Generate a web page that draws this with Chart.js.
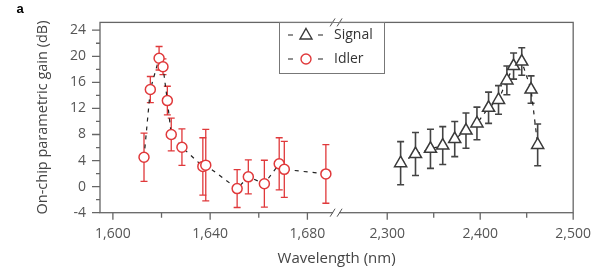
<!DOCTYPE html>
<html>
<head>
<meta charset="utf-8">
<script src="https://cdn.jsdelivr.net/npm/chart.js@4"></script>
<style>
  html, body { margin: 0; padding: 0; background: #fff; }
  #wrap { width: 604px; height: 274px; position: relative; }
</style>
</head>
<body>
<div id="wrap"><canvas id="grafico"></canvas></div>
<script>
// idler branch (left part of the broken axis)
const idlerWl   = [1612.8, 1615.4, 1619.0, 1620.6, 1622.4, 1624.0, 1628.4, 1637.0, 1638.2, 1651.1, 1655.7, 1662.3, 1668.4, 1670.5, 1687.6];
const idlerGain = [4.5, 14.9, 19.7, 18.4, 13.2, 8.0, 6.05, 3.1, 3.3, -0.3, 1.5, 0.45, 3.5, 2.65, 1.95];
const idlerErr  = [3.7, 2.0, 1.8, 1.2, 2.2, 2.5, 2.8, 4.4, 5.5, 2.9, 2.6, 3.6, 4.0, 4.3, 4.5];

// signal branch (right part)
const signalWl   = [2314.4, 2330.4, 2346.5, 2359.7, 2372.6, 2384.7, 2396.5, 2409.0, 2419.7, 2428.7, 2435.9, 2444.7, 2454.7, 2461.8];
const signalGain = [3.6, 5.0, 5.8, 6.3, 7.3, 8.6, 9.7, 12.1, 13.3, 16.3, 18.5, 19.2, 14.9, 6.4];
const signalErr  = [3.3, 3.3, 3.0, 2.9, 2.7, 2.7, 2.5, 2.4, 2.2, 2.2, 2.0, 2.1, 2.1, 3.2];

const yTicks      = [-4, 0, 4, 8, 12, 16, 20, 24];
const yMinor      = [-2, 2, 6, 10, 14, 18, 22];
const xTicksLeft  = [1600, 1640, 1680];
const xMinorLeft  = [1620, 1660];
const xTicksRight = [2300, 2400, 2500];
const xMinorRight = [2350, 2450];

const RED = '#e0393b';
const DARK = '#3a3a3a';
const AXIS = '#666';
const FONT = "'Open Sans', sans-serif";

Chart.defaults.font.family = FONT;

function pts(xs, ys) {
    return xs.map((v, i) => ({ x: v, y: ys[i] }));
}

const extras = {
    id: 'extras',
    beforeDatasetsDraw(chart) {
        const ctx = chart.ctx;
        const y = chart.scales.y;
        chart.data.datasets.forEach((ds, i) => {
            const meta = chart.getDatasetMeta(i);
            const xs = chart.scales[meta.xAxisID];
            ctx.save();
            ctx.strokeStyle = ds.errColor;
            ctx.lineWidth = ds.errWidth;
            ds.data.forEach((p, j) => {
                const px = xs.getPixelForValue(p.x);
                const t = y.getPixelForValue(p.y + ds.errors[j]);
                const b = y.getPixelForValue(p.y - ds.errors[j]);
                ctx.beginPath();
                ctx.moveTo(px, t); ctx.lineTo(px, b);
                ctx.moveTo(px - 3.5, t); ctx.lineTo(px + 3.5, t);
                ctx.moveTo(px - 3.5, b); ctx.lineTo(px + 3.5, b);
                ctx.stroke();
            });
            ctx.restore();
        });
    },
    afterDraw(chart) {
        const ctx = chart.ctx;
        const ca = chart.chartArea;
        const y = chart.scales.y, xL = chart.scales.xL, xR = chart.scales.xR;
        ctx.save();

        // frame
        ctx.strokeStyle = AXIS;
        ctx.lineWidth = 1.3;
        ctx.strokeRect(ca.left, ca.top, ca.right - ca.left, ca.bottom - ca.top);

        // tick marks
        ctx.beginPath();
        yTicks.forEach(v => { const p = y.getPixelForValue(v); ctx.moveTo(ca.left - 8, p); ctx.lineTo(ca.left, p); });
        yMinor.forEach(v => { const p = y.getPixelForValue(v); ctx.moveTo(ca.left - 4, p); ctx.lineTo(ca.left, p); });
        xTicksLeft.forEach(v => { const p = xL.getPixelForValue(v); ctx.moveTo(p, ca.bottom); ctx.lineTo(p, ca.bottom + 7); });
        xMinorLeft.forEach(v => { const p = xL.getPixelForValue(v); ctx.moveTo(p, ca.bottom); ctx.lineTo(p, ca.bottom + 5); });
        xTicksRight.forEach(v => { const p = xR.getPixelForValue(v); ctx.moveTo(p, ca.bottom); ctx.lineTo(p, ca.bottom + 7); });
        xMinorRight.forEach(v => { const p = xR.getPixelForValue(v); ctx.moveTo(p, ca.bottom); ctx.lineTo(p, ca.bottom + 5); });
        ctx.stroke();

        // axis break marks
        const bx = xL.right;
        [ca.top, ca.bottom].forEach(by => {
            ctx.fillStyle = '#fff';
            ctx.fillRect(bx - 3, by - 2, 6, 4);
            ctx.beginPath();
            ctx.moveTo(bx - 6, by + 4); ctx.lineTo(bx - 1, by - 4);
            ctx.moveTo(bx + 1, by + 4); ctx.lineTo(bx + 6, by - 4);
            ctx.lineWidth = 1;
            ctx.strokeStyle = '#555';
            ctx.stroke();
        });

        // axis titles
        ctx.fillStyle = '#444';
        ctx.textAlign = 'center';
        ctx.textBaseline = 'middle';
        ctx.font = '15px ' + FONT;
        ctx.fillText('Wavelength (nm)', (ca.left + ca.right) / 2, 259);
        ctx.save();
        ctx.translate(43, (ca.top + ca.bottom) / 2);
        ctx.rotate(-Math.PI / 2);
        ctx.font = '14.5px ' + FONT;
        ctx.fillText('On-chip parametric gain (dB)', 0, 0);
        ctx.restore();

        // panel letter
        ctx.fillStyle = '#000';
        ctx.font = 'bold 13px "Liberation Sans", Arial, sans-serif';
        ctx.fillText('a', 20, 9);

        // legend
        ctx.strokeStyle = '#777';
        ctx.lineWidth = 1;
        ctx.strokeRect(279.5, 22.5, 105, 51);
        const rows = [
            { label: 'Signal', color: DARK, y: 35, tri: true },
            { label: 'Idler', color: RED, y: 59, tri: false }
        ];
        rows.forEach(r => {
            ctx.strokeStyle = '#222';
            ctx.lineWidth = 1.2;
            ctx.beginPath();
            ctx.moveTo(288, r.y); ctx.lineTo(293, r.y);
            ctx.moveTo(318, r.y); ctx.lineTo(323, r.y);
            ctx.stroke();
            ctx.strokeStyle = r.color;
            ctx.lineWidth = 1.4;
            ctx.beginPath();
            if (r.tri) {
                ctx.moveTo(306, r.y - 6.5);
                ctx.lineTo(312, r.y + 4);
                ctx.lineTo(300, r.y + 4);
                ctx.closePath();
            } else {
                ctx.arc(306, r.y, 5, 0, Math.PI * 2);
            }
            ctx.stroke();
            ctx.fillStyle = '#333';
            ctx.textAlign = 'left';
            ctx.font = '14px ' + FONT;
            ctx.fillText(r.label, 334, r.y);
        });
        ctx.restore();
    }
};

const tickFont = { family: FONT, size: 14 };

const config = {
    type: 'scatter',
    data: {
        datasets: [
            {
                label: 'Signal',
                data: pts(signalWl, signalGain),
                errors: signalErr,
                errColor: '#444',
                errWidth: 1.6,
                xAxisID: 'xR',
                yAxisID: 'y',
                showLine: true,
                borderColor: '#222',
                borderWidth: 1.2,
                borderDash: [4, 5],
                pointStyle: 'triangle',
                pointRadius: 7,
                pointBorderWidth: 1.5,
                pointBorderColor: DARK,
                pointBackgroundColor: '#fff'
            },
            {
                label: 'Idler',
                data: pts(idlerWl, idlerGain),
                errors: idlerErr,
                errColor: RED,
                errWidth: 1.3,
                xAxisID: 'xL',
                yAxisID: 'y',
                showLine: true,
                borderColor: '#222',
                borderWidth: 1.2,
                borderDash: [4, 5],
                pointStyle: 'circle',
                pointRadius: 5,
                pointBorderWidth: 1.5,
                pointBorderColor: RED,
                pointBackgroundColor: '#fff'
            }
        ]
    },
    options: {
        responsive: true,
        maintainAspectRatio: false,
        animation: false,
        layout: { padding: { left: 0, right: 29, top: 6, bottom: 0 } },
        plugins: {
            legend: { display: false },
            tooltip: { enabled: false }
        },
        scales: {
            xL: {
                type: 'linear',
                axis: 'x',
                position: 'bottom',
                stack: 'wl',
                stackWeight: 237,
                min: 1594.7,
                max: 1691.8,
                grid: { display: false, drawTicks: false },
                border: { display: false },
                afterFit: s => { s.height = 61.3; },
                afterBuildTicks: s => { s.ticks = xTicksLeft.map(v => ({ value: v })); },
                ticks: {
                    font: tickFont, color: '#555', padding: 13, maxRotation: 0, autoSkip: false,
                    callback: v => v.toLocaleString('en-US')
                }
            },
            xR: {
                type: 'linear',
                axis: 'x',
                position: 'bottom',
                stack: 'wl',
                stackWeight: 238,
                min: 2245,
                max: 2500,
                grid: { display: false, drawTicks: false },
                border: { display: false },
                afterFit: s => { s.height = 61.3; },
                afterBuildTicks: s => { s.ticks = xTicksRight.map(v => ({ value: v })); },
                ticks: {
                    font: tickFont, color: '#555', padding: 13, maxRotation: 0, autoSkip: false,
                    callback: v => v.toLocaleString('en-US')
                }
            },
            y: {
                type: 'linear',
                position: 'left',
                min: -4,
                max: 25.2,
                grid: { display: false, drawTicks: false },
                border: { display: false },
                afterFit: s => { s.width = 100; },
                afterBuildTicks: s => { s.ticks = yTicks.map(v => ({ value: v })); },
                ticks: { font: tickFont, color: '#555', padding: 14 }
            }
        }
    },
    plugins: [extras]
};

const grafico = new Chart(document.getElementById('grafico'), config);
</script>
</body>
</html>
